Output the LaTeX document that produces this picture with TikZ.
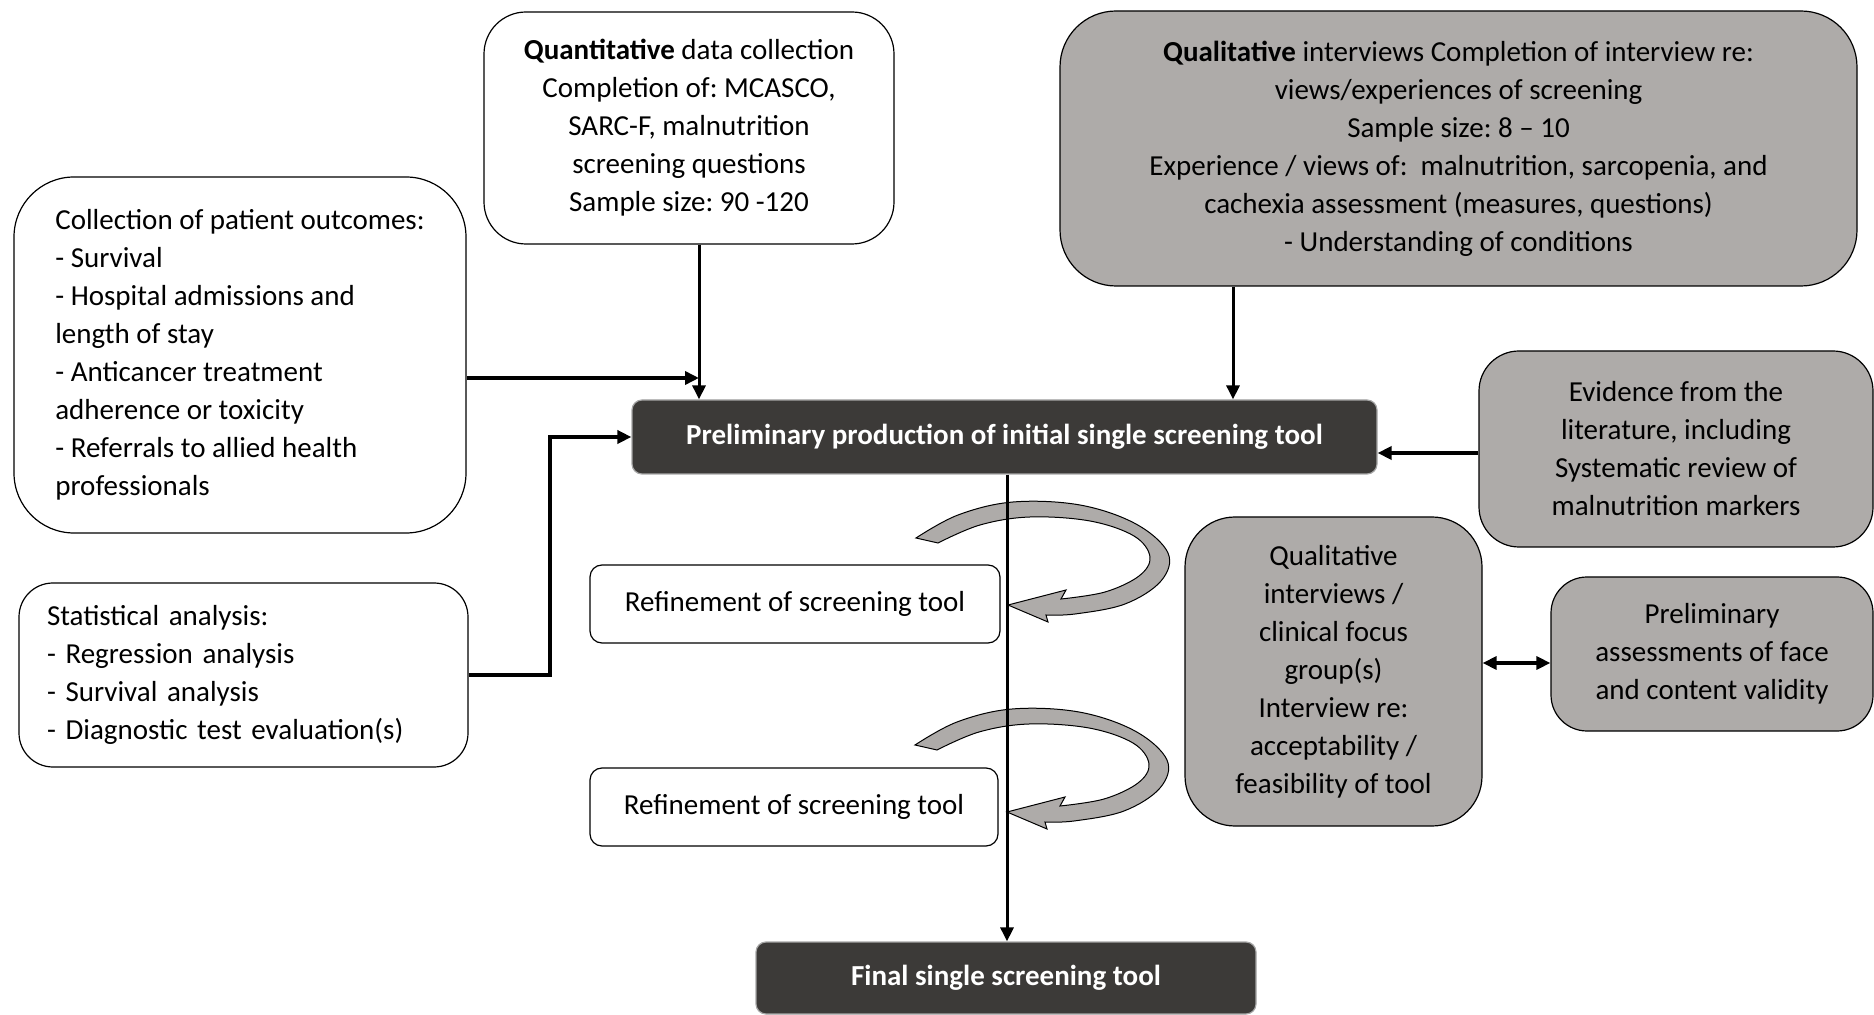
\documentclass[tikz,border=0pt]{standalone}
\usepackage{fontspec}
\setmainfont{Carlito}
\usetikzlibrary{arrows.meta}
\definecolor{boxgray}{RGB}{174,171,169}
\definecolor{boxdark}{RGB}{60,58,56}

\tikzset{
  ftip/.tip={Triangle[length=7pt, width=6.5pt]},
  % grey curved "iterate" block arrow, drawn relative to its tip
  pics/looparrow/.style={code={
    \filldraw[fill=boxgray, draw=black, line width=0.5pt]
      plot[smooth, tension=0.6] coordinates {(-92,-67) (-50,-90) (5,-103) (72,-100) (128,-81) (160,-52) (153,-24) (117,-1) (67,9) (38,10)}
      -- (40,17) -- (0,0) -- (58,-15) -- (53,-6)
      -- plot[smooth, tension=0.6] coordinates {(53,-6) (97,-13) (131,-29) (142,-48) (126,-69) (82,-84) (22,-88) (-28,-80) (-70,-62)}
      -- cycle;
  }}
}

\begin{document}
\begin{tikzpicture}[x=0.5pt, y=-0.5pt,
  txt/.style={font=\fontsize{14.5}{19}\selectfont\frenchspacing},
  base/.style={txt, draw=black, line width=0.6pt, align=center, inner sep=0pt},
  whitebox/.style={base, fill=white},
  graybox/.style={base, fill=boxgray},
  darkbox/.style={base, fill=boxdark, draw=gray!70, text=white,
    font=\fontsize{14.5}{19}\selectfont\frenchspacing\bfseries},
  flow/.style={line width=1.5pt, -{ftip}},
  heavyflow/.style={line width=1.8pt, -{ftip}}]

\useasboundingbox (0,0) rectangle (1874,1015);

% ---- boxes ----
\node[whitebox, rounded corners=21pt, minimum width=205pt, minimum height=116pt]
  (quant) at (689,128)
  {\textbf{Quantitative} data collection\\Completion of: MCASCO,\\SARC-F, malnutrition\\screening questions\\Sample size: 90 -120};

\node[graybox, rounded corners=28pt, minimum width=398.5pt, minimum height=137.5pt]
  (qual) at (1458.5,148.5)
  {\textbf{Qualitative} interviews Completion of interview re:\\views/experiences of screening\\Sample size: 8 – 10\\Experience / views of:\ \ malnutrition, sarcopenia, and\\cachexia assessment (measures, questions)\\- Understanding of conditions};

\node[whitebox, rounded corners=30pt, minimum width=226pt, minimum height=178pt, align=left]
  (collect) at (240,355)
  {Collection of patient outcomes:\\- Survival\\- Hospital admissions and\\length of stay\\- Anticancer treatment\\adherence or toxicity\\- Referrals to allied health\\professionals};

\node[darkbox, rounded corners=5pt, minimum width=372.5pt, minimum height=37pt]
  (prelim) at (1004.5,437) {Preliminary production of initial single screening tool};

\node[graybox, rounded corners=20pt, minimum width=197pt, minimum height=98pt]
  (evid) at (1676,449)
  {Evidence from the\\literature, including\\Systematic review of\\malnutrition markers};

\node[whitebox, rounded corners=6pt, minimum width=205pt, minimum height=39pt]
  (ref1) at (795,604) {Refinement of screening tool};

\node[whitebox, rounded corners=17pt, minimum height=92pt, align=left,
  text width=196.5pt, inner xsep=14pt]
  (stat) at (243.5,675)
  {Statistical analysis:\\- Regression analysis\\- Survival analysis\\- Diagnostic test evaluation(s)};

\node[graybox, rounded corners=25pt, minimum width=148.5pt, minimum height=154.5pt]
  (qi) at (1333.5,671.5)
  {Qualitative\\interviews /\\clinical focus\\group(s)\\Interview re:\\acceptability /\\feasibility of tool};

\node[graybox, rounded corners=18pt, minimum width=161pt, minimum height=77pt]
  (pa) at (1712,654)
  {Preliminary\\assessments of face\\and content validity};

\node[whitebox, rounded corners=6pt, minimum width=204pt, minimum height=39pt]
  (ref2) at (794,807) {Refinement of screening tool};

\node[darkbox, rounded corners=5pt, minimum width=250pt, minimum height=36pt]
  (final) at (1006,978) {Final single screening tool};

% ---- refinement loops ----
\pic at (1008,605) {looparrow};
\pic at (1007,812) {looparrow};

% ---- connectors ----
\coordinate (qj) at (699,378);
\coordinate (se) at (550,675);
\coordinate (qk) at (1233,453);
\coordinate (mainx) at (1007,0);

\draw[flow] (quant.south -| qj) -- (prelim.north -| qj);
\draw[heavyflow] (collect.east |- qj) -- (qj);
\draw[heavyflow] (stat.east |- se) -- (se) |- (prelim.west);
\draw[flow] (qual.south -| qk) -- (prelim.north -| qk);
\draw[heavyflow] (evid.west |- qk) -- (prelim.east |- qk);
\draw[flow] (prelim.south -| mainx) -- (final.north -| mainx);
\draw[line width=1.6pt, {ftip}-{ftip}] (qi.east |- 0,663) -- (pa.west |- 0,663);

\end{tikzpicture}
\end{document}
